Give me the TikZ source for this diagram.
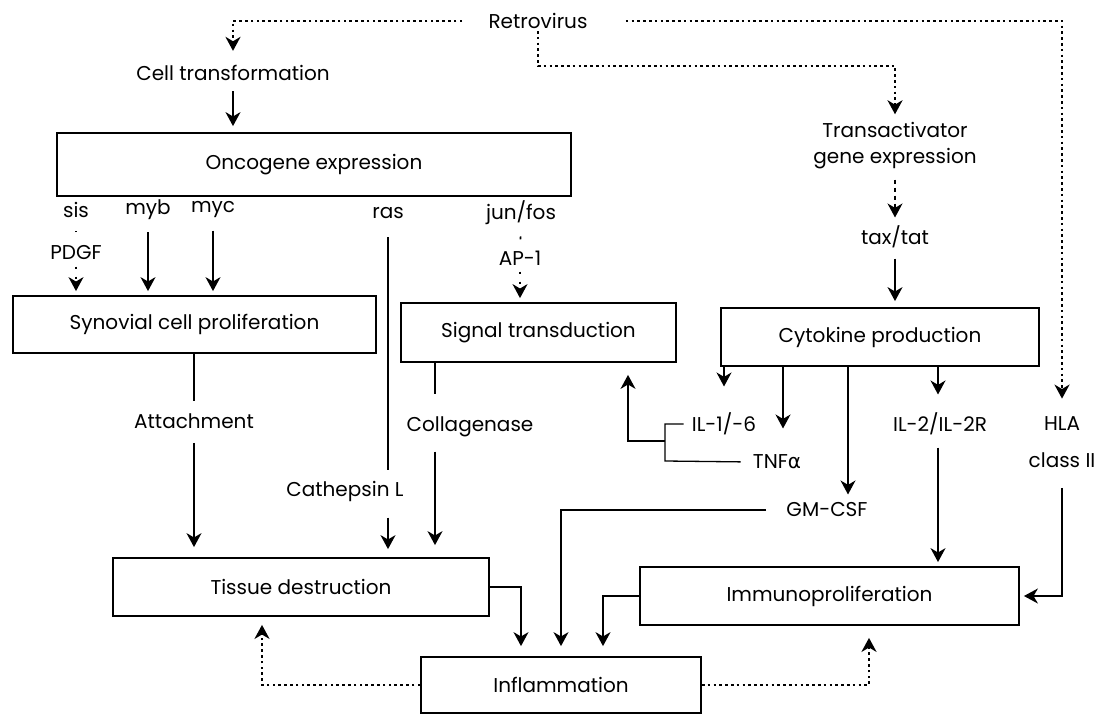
\documentclass[tikz,border=0pt]{standalone}
\usepackage{fontspec}
\setmainfont{Poppins}
\newfontfamily\grk{DejaVu Sans}
\usetikzlibrary{arrows.meta}

\begin{document}
\begin{tikzpicture}[x=0.5pt,y=-0.5pt,
  font=\fontsize{10}{12}\selectfont,
  box/.style={draw, line width=0.9pt, inner sep=0pt},
  lbl/.style={inner sep=1pt},
  line/.style={line width=0.65pt},
  arr/.style={line, -{Stealth[length=7pt,width=7.5pt,inset=2.2pt]}, shorten >=3pt},
  dotarr/.style={arr, line width=1.3pt, dash pattern=on 1.3pt off 1.6pt},
  tickline/.style={line width=0.8pt, shorten <=6pt, shorten >=6pt}]
\useasboundingbox (0,0) rectangle (1106,715);

% texts
\node[lbl] (retro) at (538,21) {Retrovirus};
\node[lbl] (celltr) at (233,73) {Cell transformation};
\node[lbl, align=center] (transact) at (895,146) {Transactivator\\[1pt]gene expression};
\node[lbl] (taxtat) at (895,237) {tax/tat};
\node[lbl] (sis) at (76,210) {sis};
\node[lbl] (pdgf) at (76,253) {PDGF};
\node[lbl] (myb) at (148,210) {myb};
\node[lbl] (myc) at (213,210) {myc};
\node[lbl] (ras) at (388,213) {ras};
\node[lbl] (junfos) at (521,213) {jun/fos};
\node[lbl] (ap1) at (520,258) {AP-1};
\node[lbl] (attach) at (194,421) {Attachment};
\node[lbl] (collag) at (470,427) {Collagenase};
\node[lbl] (cathep) at (345,491) {Cathepsin L};
\node[lbl] (il16) at (724,424) {IL-1/-6};
\node[lbl] (tnf) at (777,462) {TNF{\grk α}};
\node[lbl] (il2) at (940,424) {IL-2/IL-2R};
\node[lbl] (hla) at (1062,424) {HLA};
\node[lbl] (hlacls) at (1062,460) {class II};
\node[lbl] (gmcsf) at (827,510) {GM-CSF};

% boxes
\node[box, minimum width=257pt, minimum height=31.5pt] (onco) at (314,164.5) {Oncogene expression};
\node[box, minimum width=181.5pt, minimum height=28.5pt] (syn) at (194.5,324.5) {Synovial cell proliferation};
\node[box, minimum width=137.5pt, minimum height=29.5pt] (sig) at (538.5,332.5) {Signal transduction};
\node[box, minimum width=159pt, minimum height=29pt] (cyto) at (880,337) {Cytokine production};
\node[box, minimum width=188pt, minimum height=29pt] (tissue) at (301,587) {Tissue destruction};
\node[box, minimum width=189.5pt, minimum height=29pt] (immuno) at (829.5,596) {Immunoproliferation};
\node[box, minimum width=140pt, minimum height=28pt] (inflam) at (561,685) {Inflammation};

% helper columns
\coordinate (rbend) at (538,66);
\coordinate (xcol) at (435,0);
\coordinate (xtnf) at (783,0);
\coordinate (xgm) at (848,0);
\coordinate (xil) at (938,0);
\coordinate (xsig) at (628,0);
\coordinate (xtis) at (521,0);
\coordinate (xim) at (603,0);
\coordinate (xtd) at (262,0);
\coordinate (xid) at (869,0);
\coordinate (brtop) at (665,424);
\coordinate (brmid) at (665,441);
\coordinate (brbot) at (665,461);

% retrovirus paths
\draw[dotarr, shorten <=12pt, shorten >=6pt] (retro.west) -| (celltr.north);
\draw[dotarr] (retro.south) -- (rbend) -| (transact.north);
\draw[dotarr, shorten <=18pt, shorten >=8pt] (retro.east) -| (hla.north);

\draw[arr, shorten <=4pt] (celltr.south) -- (celltr.south |- onco.north);
\draw[arr, dash pattern=on 2pt off 2pt, shorten <=4pt] (transact.south) -- (taxtat.north);
\draw[arr, shorten <=4pt] (taxtat.south) -- (taxtat.south |- cyto.north);

% oncogenes
\draw[tickline] (sis.south) -- (pdgf.north);
\draw[arr, dash pattern=on 1pt off 4pt, shorten <=2pt, shorten >=2pt] (pdgf.south) -- (pdgf.south |- syn.north);
\draw[arr, shorten <=5pt, shorten >=2pt] (myb.south) -- (myb.south |- syn.north);
\draw[arr, shorten <=5pt, shorten >=2pt] (myc.south) -- (myc.south |- syn.north);
\draw[tickline] (junfos.south) -- (ap1.north);
\draw[arr, dash pattern=on 1pt off 4pt, shorten <=2pt, shorten >=2pt] (ap1.south) -- (ap1.south |- sig.north);
\draw[line, shorten <=8pt, shorten >=4pt] (ras.south) -- (ras.south |- cathep.north);
\draw[arr, shorten <=7pt, shorten >=4pt] (ras.south |- cathep.south) -- (ras.south |- tissue.north);

% towards tissue destruction
\draw[line, shorten >=5pt] (syn.south -| attach) -- (attach.north);
\draw[arr, shorten <=6pt, shorten >=5pt] (attach.south) -- (attach.south |- tissue.north);
\draw[line, shorten >=10pt] (sig.south -| xcol) -- (collag.north -| xcol);
\draw[arr, shorten <=6pt, shorten >=6pt] (collag.south -| xcol) -- (tissue.north -| xcol);

% cytokines
\draw[arr, shorten >=12pt] (cyto.south -| il16) -- (il16.north);
\draw[arr, shorten >=12pt] (cyto.south -| xtnf) -- (tnf.north -| xtnf);
\draw[arr] (cyto.south -| xgm) -- (gmcsf.north -| xgm);
\draw[arr, shorten >=8pt] (cyto.south -| xil) -- (il2.north -| xil);
\draw[line, shorten <=3pt, shorten >=5pt] (il16.west) -- (brtop) -- (brbot) -- (tnf.west);
\draw[arr, shorten >=6pt] (brmid) -| (sig.south -| xsig);
\draw[arr, shorten <=5pt, shorten >=2pt] (il2.south -| xil) -- (immuno.north -| xil);
\draw[arr, shorten <=9pt, shorten >=2pt] (hlacls.south) |- (immuno.east);

% towards inflammation
\draw[arr, shorten <=9pt, shorten >=5pt] (gmcsf.west) -| (inflam.north);
\draw[arr, shorten >=5pt] (tissue.east) -| (inflam.north -| xtis);
\draw[arr, shorten >=5pt] (immuno.west) -| (inflam.north -| xim);

% feedback
\draw[dotarr, shorten >=4pt] (inflam.west) -| (tissue.south -| xtd);
\draw[dotarr, shorten >=6pt] (inflam.east) -| (immuno.south -| xid);
\end{tikzpicture}
\end{document}
